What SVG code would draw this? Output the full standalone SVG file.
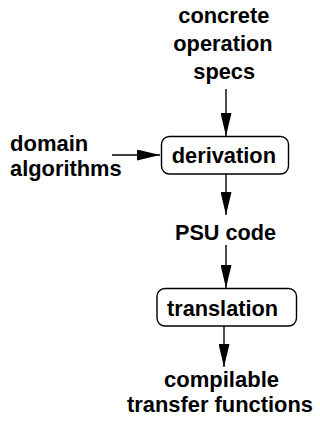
<svg xmlns="http://www.w3.org/2000/svg" width="320" height="421" viewBox="0 0 320 421">
  <style>
    text { font-family: "Liberation Sans", Arial, Helvetica, sans-serif; font-weight: bold; font-size: 22px; fill: #000; }
    .box { fill: #fff; stroke: #000; stroke-width: 1.4; }
    .edge { stroke: #000; stroke-width: 1.4; fill: none; marker-end: url(#head); }
  </style>
  <defs>
    <marker id="head" viewBox="0 0 23 11" refX="23" refY="5.5" markerWidth="23" markerHeight="11" markerUnits="userSpaceOnUse" orient="auto">
      <path d="M0,0 L23,5.5 L0,11 Z" fill="#000"/>
    </marker>
  </defs>

  <g id="connectors">
    <line class="edge" x1="226" y1="89" x2="226" y2="136"/>
    <line class="edge" x1="112" y1="155" x2="160" y2="155"/>
    <line class="edge" x1="226" y1="174" x2="226" y2="215"/>
    <line class="edge" x1="226" y1="245" x2="226" y2="288"/>
    <line class="edge" x1="224" y1="326" x2="224" y2="367"/>
  </g>

  <g id="specs">
    <text x="178.3" y="23.3" textLength="91" lengthAdjust="spacingAndGlyphs">concrete</text>
    <text x="173.3" y="51" textLength="99.3" lengthAdjust="spacingAndGlyphs">operation</text>
    <text x="193.3" y="78.5" textLength="61.7" lengthAdjust="spacingAndGlyphs">specs</text>
  </g>

  <g id="domain-algorithms">
    <text x="10" y="150.7" textLength="78.3" lengthAdjust="spacingAndGlyphs">domain</text>
    <text x="10" y="175.7" textLength="111.7" lengthAdjust="spacingAndGlyphs">algorithms</text>
  </g>

  <g id="derivation">
    <rect class="box" x="161.5" y="136.5" width="127" height="37.5" rx="8"/>
    <text x="171.7" y="163.3" textLength="104.3" lengthAdjust="spacingAndGlyphs">derivation</text>
  </g>

  <g id="psu-code">
    <text x="175" y="240" textLength="101" lengthAdjust="spacingAndGlyphs">PSU code</text>
  </g>

  <g id="translation">
    <rect class="box" x="157" y="288.5" width="139.5" height="37.5" rx="8"/>
    <text x="167" y="316" textLength="111" lengthAdjust="spacingAndGlyphs">translation</text>
  </g>

  <g id="transfer-functions">
    <text x="164" y="386.7" textLength="115" lengthAdjust="spacingAndGlyphs">compilable</text>
    <text x="127" y="411.7" textLength="186" lengthAdjust="spacingAndGlyphs">transfer functions</text>
  </g>
</svg>
